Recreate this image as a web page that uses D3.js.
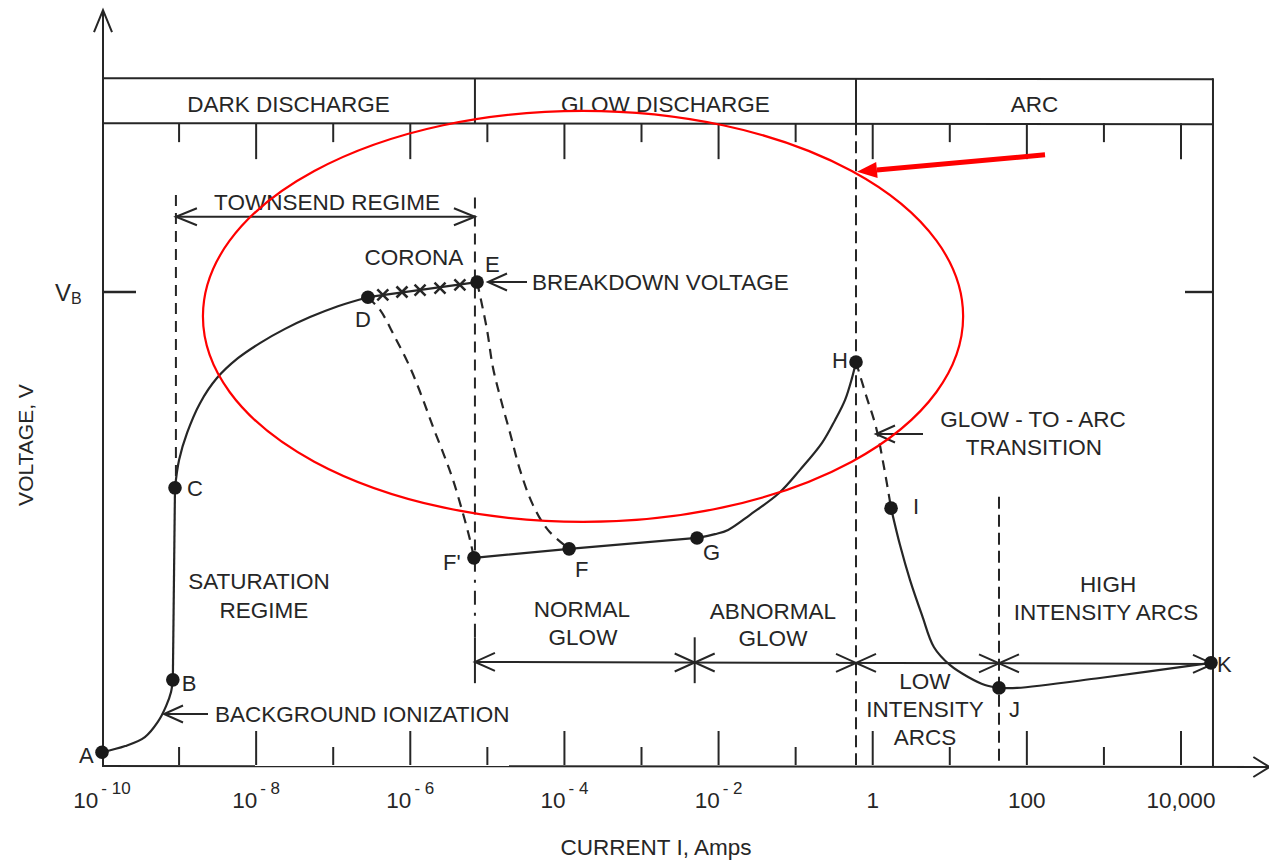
<!DOCTYPE html>
<html><head><meta charset="utf-8">
<script src="https://cdn.jsdelivr.net/npm/d3@7"></script>
<style>
body{margin:0;background:#fff}
text{font-family:"Liberation Sans",Arial,sans-serif;fill:#262626}
</style>
</head><body>
<svg id="c" width="1269" height="860"></svg>
<script>
// ---------------- DATA ----------------
// Current (A) in log scale, voltage normalised so V_B = 1
const decadeTicks = [1e-9,1e-8,1e-7,1e-6,1e-5,1e-4,1e-3,1e-2,1e-1,1,10,100,1000,10000];
const majorTicks = [1e-8,1e-6,1e-4,1e-2,1,100,10000];
const tickLabelValues = [1e-10,1e-8,1e-6,1e-4,1e-2,1,100,10000];
const tickLabelBase = ["10","10","10","10","10","1","100","10,000"];
const tickLabelSup = ["- 10","- 8","- 6","- 4","- 2","","",""];

const pointNames   = ["A","B","C","D","E","F'","F","G","H","I","J","K"];
const pointCurrent = [1e-10,8.3e-10,8.85e-10,2.82e-7,7.35e-6,6.7e-6,1.15e-4,5.25e-3,0.607,1.73,43.5,24500];
const pointVoltage = [0.027,0.180,0.586,0.989,1.021,0.438,0.457,0.480,0.852,0.543,0.163,0.216];

const curveAB = [[1e-10,0.027],[2.0e-10,0.040],[3.6e-10,0.059],[5.3e-10,0.091],[6.8e-10,0.125],[7.85e-10,0.154],[8.3e-10,0.180]];
const lineBC  = [[8.3e-10,0.180],[8.85e-10,0.586]];
const curveCD = [[8.85e-10,0.586],[1.0e-9,0.645],[1.27e-9,0.702],[1.87e-9,0.765],[3.1e-9,0.818],[5.8e-9,0.860],[1.12e-8,0.892],[2.37e-8,0.922],[5.0e-8,0.947],[1.15e-7,0.970],[2.82e-7,0.989]];
const lineDE  = [[2.82e-7,0.989],[7.35e-6,1.021]];
const coronaCurrent = [4.4e-7,7.8e-7,1.34e-6,2.43e-6,4.4e-6];
const coronaVoltage = [0.994,1.000,1.004,1.008,1.015];
const dashDFp = [[2.82e-7,0.989],[4.05e-7,0.962],[6.3e-7,0.905],[9.9e-7,0.841],[1.42e-6,0.778],[1.97e-6,0.715],[2.74e-6,0.655],[3.58e-6,0.603],[4.69e-6,0.539],[5.96e-6,0.476],[6.7e-6,0.438]];
const dashEF  = [[7.35e-6,1.021],[8.0e-6,0.994],[9.9e-6,0.920],[1.18e-5,0.841],[1.50e-5,0.772],[1.97e-5,0.702],[2.65e-5,0.624],[3.9e-5,0.550],[6.1e-5,0.497],[1.15e-4,0.457]];
const lineFpG = [[6.7e-6,0.438],[1.15e-4,0.457],[5.25e-3,0.480]];
const curveGH = [[5.25e-3,0.480],[9.0e-3,0.488],[1.33e-2,0.497],[2.56e-2,0.529],[6.1e-2,0.575],[0.114,0.624],[0.22,0.681],[0.324,0.729],[0.438,0.772],[0.538,0.818],[0.607,0.852]];
const dashHI  = [[0.607,0.852],[0.818,0.782],[1.10,0.715],[1.40,0.630],[1.73,0.543]];
const curveIJ = [[1.73,0.543],[2.26,0.465],[3.05,0.391],[4.36,0.317],[6.24,0.249],[10.1,0.211],[17.3,0.186],[28.6,0.169],[43.5,0.163]];
const curveJK = [[43.5,0.163],[74.5,0.163],[889,0.184],[24500,0.216]];

const regionNames = ["DARK DISCHARGE","GLOW DISCHARGE","ARC"];
const regionBounds = [1e-10,6.9e-6,0.607,2.6e4];
const regimeBounds = [6.9e-6,4.9e-3,0.607,43.5,2.6e4];

// ---------------- SCALES ----------------
const svg = d3.select("#c");
const x = d3.scaleLog().domain([1e-10,1e4]).range([102,1181]);
const y = d3.scaleLinear().domain([0,1]).range([765,292]);
const INK = "#262626";
const g = svg.append("g");

const lineSmooth = d3.line().x(d=>x(d[0])).y(d=>y(d[1])).curve(d3.curveCatmullRom.alpha(0.5));
const lineStraight = d3.line().x(d=>x(d[0])).y(d=>y(d[1]));

function seg(x1,y1,x2,y2,opts={}){
  const l=g.append("line").attr("x1",x1).attr("y1",y1).attr("x2",x2).attr("y2",y2)
    .attr("stroke",opts.color||INK).attr("stroke-width",opts.w||2);
  if(opts.dash) l.attr("stroke-dasharray",opts.dash);
  return l;
}
function chevron(tx,ty,dx,dy,len=19,half=8.5){
  const bx=tx-dx*len, by=ty-dy*len, nx=-dy, ny=dx;
  g.append("path").attr("d",`M${bx+nx*half},${by+ny*half}L${tx},${ty}L${bx-nx*half},${by-ny*half}`)
   .attr("fill","none").attr("stroke",INK).attr("stroke-width",2);
}
function txt(s,px,py,anchor="middle",size=22.5){
  return g.append("text").attr("x",px).attr("y",py).attr("text-anchor",anchor).attr("font-size",size).text(s);
}

// ---------------- FRAME ----------------
const x0 = x(1e-10), xR = x(regionBounds[3]);
const yHeadTop = y(1.452), yHeadBot = y(1.357);
seg(x0+1,y(0),x0+1,y(1.596));
chevron(x0+1,y(1.596),0,-1,22,9);
const xEnd = x(1.4e5);
seg(x0,y(0)+1,xEnd,y(0)+2);
chevron(xEnd,y(0)+2,1,0,16,10);
seg(x0,yHeadTop,xR,yHeadTop+1);
seg(x0,yHeadBot,xR,yHeadBot+1);
seg(xR,yHeadTop,xR,y(0)+1);
regionBounds.slice(1,3).forEach(b=>seg(x(b),yHeadTop,x(b),yHeadBot));
regionNames.forEach((n,i)=>{
  const cx=(x(regionBounds[i])+x(regionBounds[i+1]))/2;
  txt(n,cx,yHeadBot-11);
});
decadeTicks.forEach(v=>{
  const major = majorTicks.includes(v);
  seg(x(v),yHeadBot,x(v),yHeadBot+(major?36:19));
  seg(x(v),y(0),x(v),y(0)-(major?34:18));
});
tickLabelValues.forEach((v,i)=>{
  const t=g.append("text").attr("x",x(v)).attr("y",y(0)+43).attr("text-anchor","middle").attr("font-size",22.5);
  t.append("tspan").text(tickLabelBase[i]);
  if(tickLabelSup[i]) t.append("tspan").attr("dy",-14).attr("dx",3).attr("font-size",17).text(tickLabelSup[i]);
});
txt("CURRENT I, Amps",656,y(0)+90);
g.append("text").attr("transform","translate(33,445) rotate(-90)").attr("text-anchor","middle")
  .attr("font-size",21).text("VOLTAGE, V");
seg(x0,y(1),x0+34,y(1),{w:2.4});
seg(xR-28,y(1),xR,y(1),{w:2.4});
const vb=g.append("text").attr("x",55).attr("y",y(1)+9).attr("font-size",24);
vb.append("tspan").text("V");
vb.append("tspan").attr("dy",3).attr("font-size",16).text("B");

// ---------------- GUIDE LINES ----------------
const dash="11,7";
seg(x(9.1e-10),y(1.205),x(9.1e-10),y(0.586),{dash});
seg(x(6.9e-6),y(1.2),x(6.9e-6),y(0.438),{dash});
seg(x(6.9e-6),y(0.438),x(6.9e-6),y(0.27),{dash:"14,8,3,8"});
seg(x(6.9e-6),y(0.27),x(6.9e-6),y(0.173));
seg(x(0.607),yHeadBot,x(0.607),y(0),{dash:"12,6"});
seg(x(43.5),y(0.567),x(43.5),y(0),{dash:"12,6"});
seg(x(4.9e-3),y(0.27),x(4.9e-3),y(0.173));

const yT=y(1.159);
seg(x(9.1e-10),yT,x(6.9e-6),yT);
chevron(x(9.1e-10),yT,-1,0,21,8.5);
chevron(x(6.9e-6),yT,1,0,21,8.5);
txt("TOWNSEND REGIME",327,yT-7);

const yR=y(0.218);
seg(x(regimeBounds[0]),yR,x(regimeBounds[4]),yR+2);
for(let i=0;i<regimeBounds.length-1;i++){
  const a=x(regimeBounds[i]), b=x(regimeBounds[i+1]);
  const ya=yR+2*(a-x(regimeBounds[0]))/(x(regimeBounds[4])-x(regimeBounds[0]));
  const yb=yR+2*(b-x(regimeBounds[0]))/(x(regimeBounds[4])-x(regimeBounds[0]));
  chevron(a,ya,-1,0,20,9);
  chevron(b,yb,1,0,20,9);
}

// ---------------- CURVES ----------------
function path(data,gen,dashed){
  const p=g.append("path").attr("d",gen(data)).attr("fill","none").attr("stroke",INK).attr("stroke-width",2.2);
  if(dashed) p.attr("stroke-dasharray","10,7");
}
path(curveAB,lineSmooth);
path(lineBC,lineStraight);
path(curveCD,lineSmooth);
path(lineDE,lineStraight);
path(dashDFp,lineSmooth,true);
path(dashEF,lineSmooth,true);
path(lineFpG,lineStraight);
path(curveGH,lineSmooth);
path(dashHI,lineSmooth,true);
path(curveIJ,lineSmooth);
path(curveJK,lineSmooth);

coronaCurrent.forEach((c,i)=>{
  const cx=x(c), cy=y(coronaVoltage[i]), s=5.5;
  seg(cx-s,cy-s,cx+s,cy+s,{w:2.5}); seg(cx-s,cy+s,cx+s,cy-s,{w:2.5});
});

pointNames.forEach((n,i)=>{
  g.append("circle").attr("cx",x(pointCurrent[i])).attr("cy",y(pointVoltage[i])).attr("r",6.8).attr("fill","#1a1a1a");
});
const labelOffsets = {"A":[-23,11,"start"],"B":[9,11,"start"],"C":[12,8,"start"],"D":[-13,30,"start"],"E":[8,-10,"start"],
  "F'":[-31,12,"start"],"F":[6,28,"start"],"G":[6,22,"start"],"H":[-24,6,"start"],"I":[22,6,"start"],"J":[10,29,"start"],"K":[6,9,"start"]};
pointNames.forEach((n,i)=>{
  const o=labelOffsets[n];
  txt(n,x(pointCurrent[i])+o[0],y(pointVoltage[i])+o[1],o[2],22);
});

// ---------------- TEXT ANNOTATIONS ----------------
txt("CORONA",414,265);
seg(488,282,527,282); chevron(488,282,-1,0,19,8.5);
txt("BREAKDOWN VOLTAGE",532,290,"start");
txt("SATURATION",259,589);
txt("REGIME",264,618);
seg(164,714,208,714); chevron(164,714,-1,0,19,8.5);
txt("BACKGROUND IONIZATION",215,722,"start");
txt("NORMAL",582,617); txt("GLOW",583,645);
txt("ABNORMAL",773,619); txt("GLOW",773,646);
txt("LOW",925,689); txt("INTENSITY",925,717); txt("ARCS",925,745);
txt("HIGH",1108,592); txt("INTENSITY ARCS",1106,620);
seg(876,434,923,434); chevron(876,434,-1,0,19,8.5);
txt("GLOW - TO - ARC",1033,427); txt("TRANSITION",1034,455);

// ---------------- RED MARKUP ----------------
const eL=x(2.04e-9), eR=x(14.9), eT=y(1.383), eB=y(0.514);
g.append("ellipse").attr("cx",(eL+eR)/2).attr("cy",(eT+eB)/2).attr("rx",(eR-eL)/2).attr("ry",(eB-eT)/2)
  .attr("fill","none").attr("stroke","#f00").attr("stroke-width",2.2);
const tail=[x(172),y(1.290)], tip=[x(0.625),y(1.254)];
const dx=tip[0]-tail[0], dy=tip[1]-tail[1], L=Math.hypot(dx,dy), ux=dx/L, uy=dy/L;
const hb=[tip[0]-ux*20, tip[1]-uy*20];
g.append("line").attr("x1",tail[0]).attr("y1",tail[1]).attr("x2",hb[0]).attr("y2",hb[1]).attr("stroke","#f00").attr("stroke-width",5);
g.append("path").attr("d",`M${tip[0]},${tip[1]}L${hb[0]-uy*8},${hb[1]+ux*8}L${hb[0]+uy*8},${hb[1]-ux*8}Z`).attr("fill","#f00");
</script>
</body></html>
